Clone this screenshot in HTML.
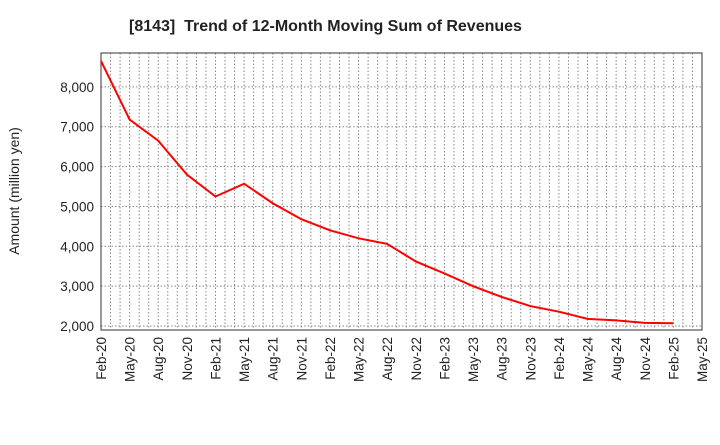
<!DOCTYPE html>
<html><head><meta charset="utf-8"><style>
body{margin:0;background:#fff;font-family:"Liberation Sans",sans-serif}
</style></head><body>
<svg id="c" width="720" height="440" xmlns="http://www.w3.org/2000/svg">
<text x="129" y="31" text-anchor="start" font-size="16" font-weight="bold" fill="#222" xml:space="preserve">[8143]  Trend of 12-Month Moving Sum of Revenues</text>
<text transform="translate(19,191) rotate(-90)" text-anchor="middle" font-size="14" fill="#222">Amount (million yen)</text>
<g id="grid"></g><g id="axes"></g><g id="series"></g>
</svg>
<script>
const categories=["Feb-20","May-20","Aug-20","Nov-20","Feb-21","May-21","Aug-21","Nov-21","Feb-22","May-22","Aug-22","Nov-22","Feb-23","May-23","Aug-23","Nov-23","Feb-24","May-24","Aug-24","Nov-24","Feb-25"];
const values=[8650,7180,6650,5800,5250,5570,5080,4680,4400,4200,4060,3620,3320,3000,2730,2500,2360,2180,2140,2080,2070];
const xTickLabels=["Feb-20","May-20","Aug-20","Nov-20","Feb-21","May-21","Aug-21","Nov-21","Feb-22","May-22","Aug-22","Nov-22","Feb-23","May-23","Aug-23","Nov-23","Feb-24","May-24","Aug-24","Nov-24","Feb-25","May-25"];
const yTicks=[2000,3000,4000,5000,6000,7000,8000];
const L=101,R=702,T=53,B=330,yMin=1900,yMax=8850;
const NS="http://www.w3.org/2000/svg";
const x=i=>L+(R-L)*i/(xTickLabels.length-1);
const y=v=>B-(v-yMin)/(yMax-yMin)*(B-T);
function mk(p,t,a){const e=document.createElementNS(NS,t);for(const k in a)e.setAttribute(k,a[k]);document.getElementById(p).appendChild(e);return e;}
const nMonths=(xTickLabels.length-1)*3;
for(let m=1;m<nMonths;m++){const xx=L+(R-L)*m/nMonths;
const g=mk("grid","line",{x1:xx,x2:xx,y1:T,y2:B,stroke:"#888","stroke-dasharray":"1.5,2","stroke-width":1});

}
yTicks.forEach(v=>{
const g=mk("grid","line",{x1:L,x2:R,y1:y(v),y2:y(v),stroke:"#888","stroke-dasharray":"1.5,2","stroke-width":1});


const t=mk("axes","text",{x:L-7,y:y(v)+5,"text-anchor":"end","font-size":13.5,fill:"#222"});
t.textContent=v.toLocaleString("en-US");

});
xTickLabels.forEach((s,i)=>{
const t=mk("axes","text",{transform:`translate(${x(i)+5},${B+7}) rotate(-90)`,"text-anchor":"end","font-size":13.5,fill:"#222"});
t.textContent=s;

});
const fr=mk("axes","rect",{x:L,y:T,width:R-L,height:B-T,fill:"none",stroke:"#333","stroke-width":1});


const pl=mk("series","polyline",{points:values.map((v,i)=>x(i)+","+y(v)).join(" "),fill:"none",stroke:"#f00","stroke-width":2});


</script>
</body></html>
